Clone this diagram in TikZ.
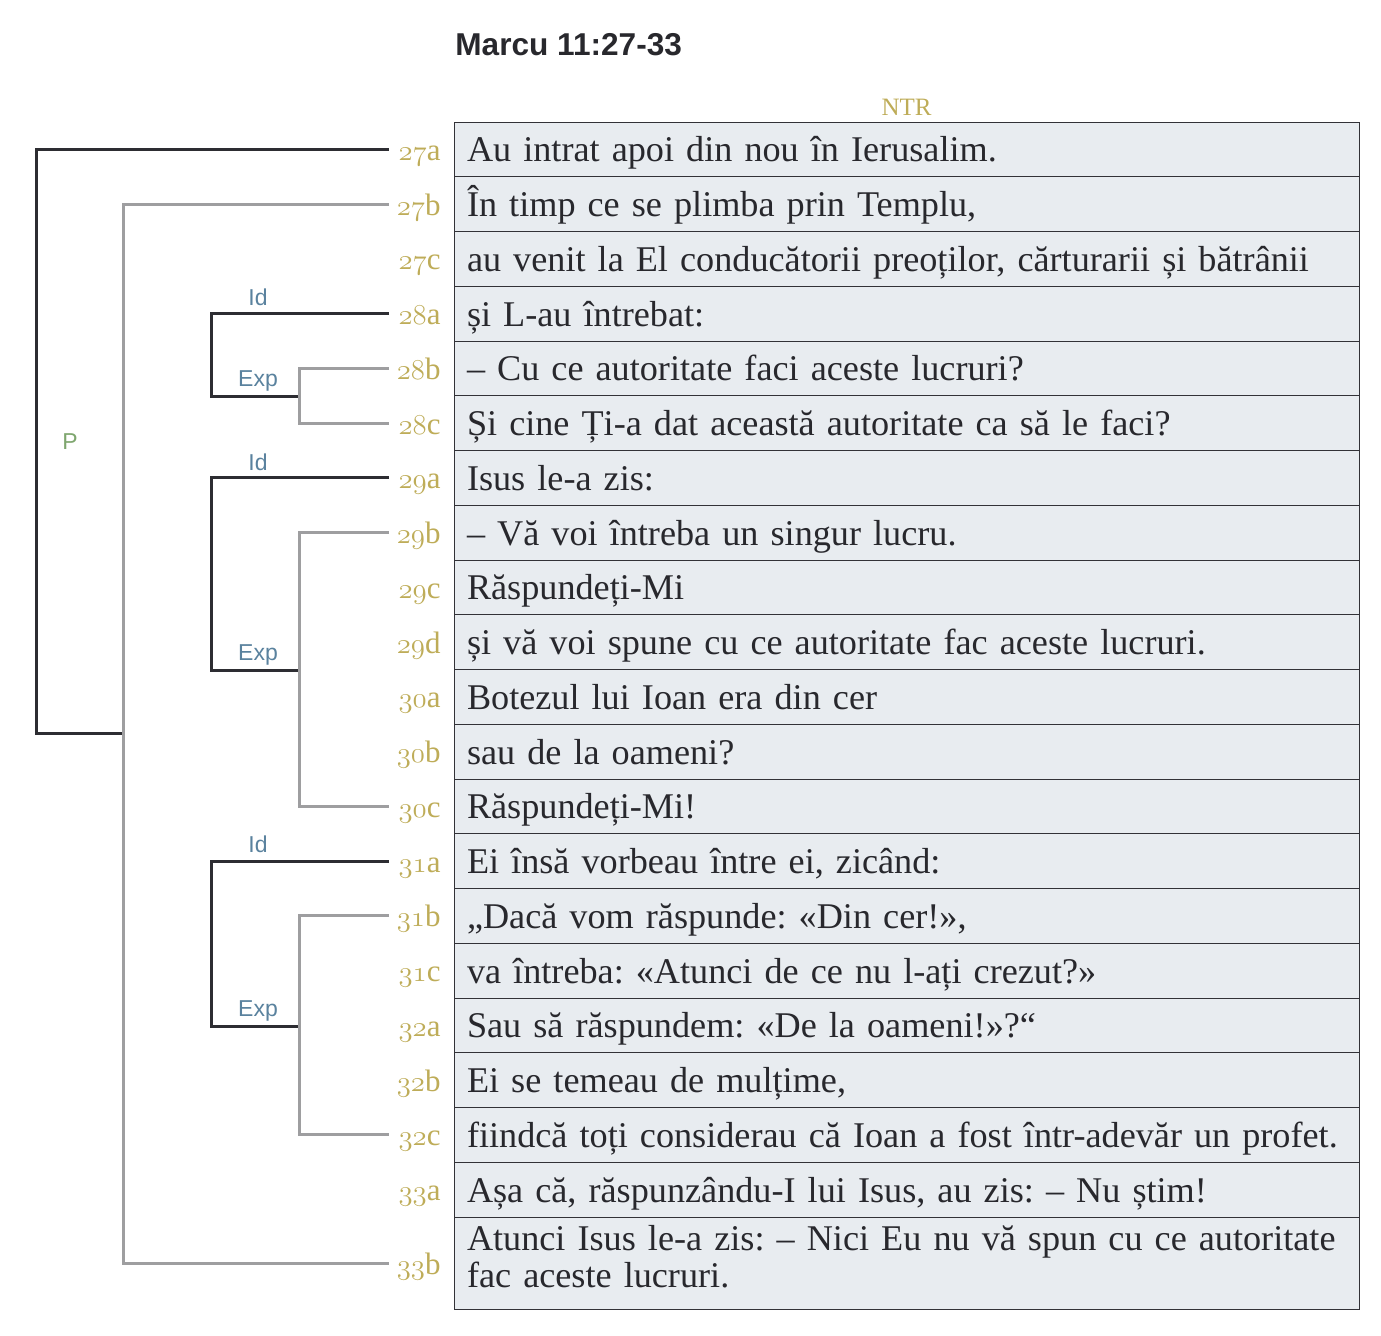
\documentclass[tikz,border=0pt]{standalone}
\usepackage{fontspec}
\setmainfont{Liberation Serif}
\newfontfamily\headfont{Liberation Sans}
\usepackage{tikz}
\usetikzlibrary{positioning}
\definecolor{verse}{RGB}{190,172,88}
\definecolor{relblue}{RGB}{90,130,158}
\definecolor{tagp}{RGB}{126,166,110}
\definecolor{tree}{RGB}{45,45,50}
\definecolor{treegray}{RGB}{158,158,160}
\definecolor{rule}{RGB}{50,50,55}
\definecolor{cellbg}{RGB}{232,236,240}
\definecolor{ink}{RGB}{40,40,45}
\newcommand{\vnum}[1]{{\usefont{OML}{cmm}{m}{it}#1}}

\begin{document}
\begin{tikzpicture}[
    x=0.5pt, y=-0.5pt,
    cell/.style={rectangle, draw=rule, fill=cellbg, line width=0.5pt, outer sep=0pt, inner xsep=6.5pt, inner ysep=0pt, text width=439.5pt, align=left, text height=19.9pt, text depth=7.475pt, font=\fontsize{18.1}{18.5}\selectfont\frenchspacing, text=ink},
    vlabel/.style={text width=22pt, align=right, inner sep=0pt, text height=14pt, text depth=3pt, font=\fontsize{15.5}{17}\selectfont, text=verse},
    rel/.style={anchor=base, inner sep=0pt, font=\headfont\fontsize{11.5}{13}\selectfont, text=relblue},
    dark/.style={line width=1.5pt, draw=tree, shorten <=3.5pt},
    light/.style={line width=1.5pt, draw=treegray, shorten <=3.5pt, shorten >=3.5pt},
]
\useasboundingbox (0,0) rectangle (1381,1335);

\node[anchor=base west, inner sep=0pt, font=\headfont\bfseries\fontsize{15.8}{18}\selectfont, text=ink] (title) at (455,55) {Marcu 11:27-33};

% text column
\node[cell, anchor=north west] (r27a) at (454,122) {Au intrat apoi din nou în Ierusalim.};
\node[cell, below=0pt of r27a] (r27b) {În timp ce se plimba prin Templu,};
\node[cell, below=0pt of r27b] (r27c) {au venit la El conducătorii preoților, cărturarii și bătrânii};
\node[cell, below=0pt of r27c] (r28a) {și L-au întrebat:};
\node[cell, below=0pt of r28a] (r28b) {– Cu ce autoritate faci aceste lucruri?};
\node[cell, below=0pt of r28b] (r28c) {Și cine Ți-a dat această autoritate ca să le faci?};
\node[cell, below=0pt of r28c] (r29a) {Isus le-a zis:};
\node[cell, below=0pt of r29a] (r29b) {– Vă voi întreba un singur lucru.};
\node[cell, below=0pt of r29b] (r29c) {Răspundeți-Mi};
\node[cell, below=0pt of r29c] (r29d) {și vă voi spune cu ce autoritate fac aceste lucruri.};
\node[cell, below=0pt of r29d] (r30a) {Botezul lui Ioan era din cer};
\node[cell, below=0pt of r30a] (r30b) {sau de la oameni?};
\node[cell, below=0pt of r30b] (r30c) {Răspundeți-Mi!};
\node[cell, below=0pt of r30c] (r31a) {Ei însă vorbeau între ei, zicând:};
\node[cell, below=0pt of r31a] (r31b) {„Dacă vom răspunde: «Din cer!»,};
\node[cell, below=0pt of r31b] (r31c) {va întreba: «Atunci de ce nu l-ați crezut?»};
\node[cell, below=0pt of r31c] (r32a) {Sau să răspundem: «De la oameni!»?“};
\node[cell, below=0pt of r32a] (r32b) {Ei se temeau de mulțime,};
\node[cell, below=0pt of r32b] (r32c) {fiindcă toți considerau că Ioan a fost într-adevăr un profet.};
\node[cell, below=0pt of r32c] (r33a) {Așa că, răspunzându-I lui Isus, au zis: – Nu știm!};
\node[cell, below=0pt of r33a, text height=16.5pt, text depth=29.5pt] (r33b) {Atunci Isus le-a zis: – Nici Eu nu vă spun cu ce autoritate\\fac aceste lucruri.};

\node[above=3pt of r27a, inner sep=0pt, font=\fontsize{12.5}{14}\selectfont, text=verse] (ntr) {NTR};

% verse labels
\node[vlabel, left=6.5pt of r27a] (l27a) {\vnum{27}a};
\node[vlabel, left=6.5pt of r27b] (l27b) {\vnum{27}b};
\node[vlabel, left=6.5pt of r27c] (l27c) {\vnum{27}c};
\node[vlabel, left=6.5pt of r28a] (l28a) {\vnum{28}a};
\node[vlabel, left=6.5pt of r28b] (l28b) {\vnum{28}b};
\node[vlabel, left=6.5pt of r28c] (l28c) {\vnum{28}c};
\node[vlabel, left=6.5pt of r29a] (l29a) {\vnum{29}a};
\node[vlabel, left=6.5pt of r29b] (l29b) {\vnum{29}b};
\node[vlabel, left=6.5pt of r29c] (l29c) {\vnum{29}c};
\node[vlabel, left=6.5pt of r29d] (l29d) {\vnum{29}d};
\node[vlabel, left=6.5pt of r30a] (l30a) {\vnum{30}a};
\node[vlabel, left=6.5pt of r30b] (l30b) {\vnum{30}b};
\node[vlabel, left=6.5pt of r30c] (l30c) {\vnum{30}c};
\node[vlabel, left=6.5pt of r31a] (l31a) {\vnum{31}a};
\node[vlabel, left=6.5pt of r31b] (l31b) {\vnum{31}b};
\node[vlabel, left=6.5pt of r31c] (l31c) {\vnum{31}c};
\node[vlabel, left=6.5pt of r32a] (l32a) {\vnum{32}a};
\node[vlabel, left=6.5pt of r32b] (l32b) {\vnum{32}b};
\node[vlabel, left=6.5pt of r32c] (l32c) {\vnum{32}c};
\node[vlabel, left=6.5pt of r33a] (l33a) {\vnum{33}a};
\node[vlabel, left=6.5pt of r33b] (l33b) {\vnum{33}b};

% junctions
\coordinate (pj) at (123,733);
\coordinate (ej1) at (299,396);
\coordinate (ej2) at (299,670);
\coordinate (ej3) at (299,1026);

% relation tree
\draw[dark] (l27a.west) -| (36,733) -- (pj);
\draw[light] (l27b.west) -| (pj) |- (l33b.west);
\draw[dark] (l28a.west) -| (211,396) -- (ej1);
\draw[light] (l28b.west) -| (ej1) |- (l28c.west);
\draw[dark] (l29a.west) -| (211,670) -- (ej2);
\draw[light] (l29b.west) -| (ej2) |- (l30c.west);
\draw[dark] (l31a.west) -| (211,1026) -- (ej3);
\draw[light] (l31b.west) -| (ej3) |- (l32c.west);

\node[rel, text=tagp] (p) at (70,449) {P};
\node[rel] (id1) at (258,305) {Id};
\node[rel] (exp1) at (258,386) {Exp};
\node[rel] (id2) at (258,470) {Id};
\node[rel] (exp2) at (258,660) {Exp};
\node[rel] (id3) at (258,852) {Id};
\node[rel] (exp3) at (258,1016) {Exp};
\end{tikzpicture}
\end{document}
